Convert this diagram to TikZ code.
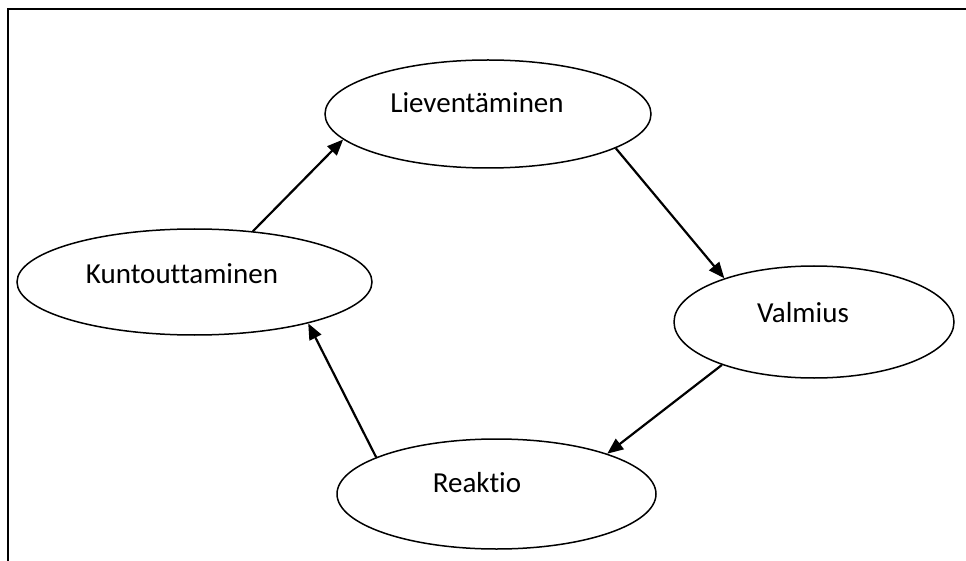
\documentclass[tikz,border=0pt]{standalone}
\usepackage{fontspec}
\setmainfont{Carlito}[Ligatures=NoCommon]
\usetikzlibrary{shapes.geometric,arrows.meta}

\begin{document}
\begin{tikzpicture}[x=1pt,y=-1pt,
  phase/.style={draw, ellipse, line width=1.5pt, inner sep=0pt},
  phasetext/.style={font=\fontsize{29}{34}\selectfont, inner sep=0pt},
  flow/.style={line width=2.2pt, -{Triangle[length=16pt,width=13pt]}}]

  \useasboundingbox (0,0) rectangle (966,561);

  % frame: top and left edges only
  \draw[line width=2.2pt] (8,561) -- (8,9) -- (966,9);

  % the four phases of the cycle
  \node[phase, minimum width=326pt, minimum height=108pt] (liev) at (488,114) {};
  \node[phasetext] (lievtxt) at (477,103) {Lieventäminen};

  \node[phase, minimum width=280pt, minimum height=112pt] (valm) at (814,322) {};
  \node[phasetext] (valmtxt) at (803,313) {Valmius};

  \node[phase, minimum width=319pt, minimum height=110pt] (reak) at (496.5,494) {};
  \node[phasetext] (reaktxt) at (477,483) {Reaktio};

  \node[phase, minimum width=355pt, minimum height=106pt] (kunt) at (194.5,282) {};
  \node[phasetext] (kunttxt) at (182,274) {Kuntouttaminen};

  % cycle connectors
  \draw[flow] (kunt.41) -- (liev.190);
  \draw[flow] (liev.-15) -- (valm.154);
  \draw[flow] (valm.205) -- (reak.20);
  \draw[flow] (reak.163.5) -- (kunt.-20.4);
\end{tikzpicture}
\end{document}
